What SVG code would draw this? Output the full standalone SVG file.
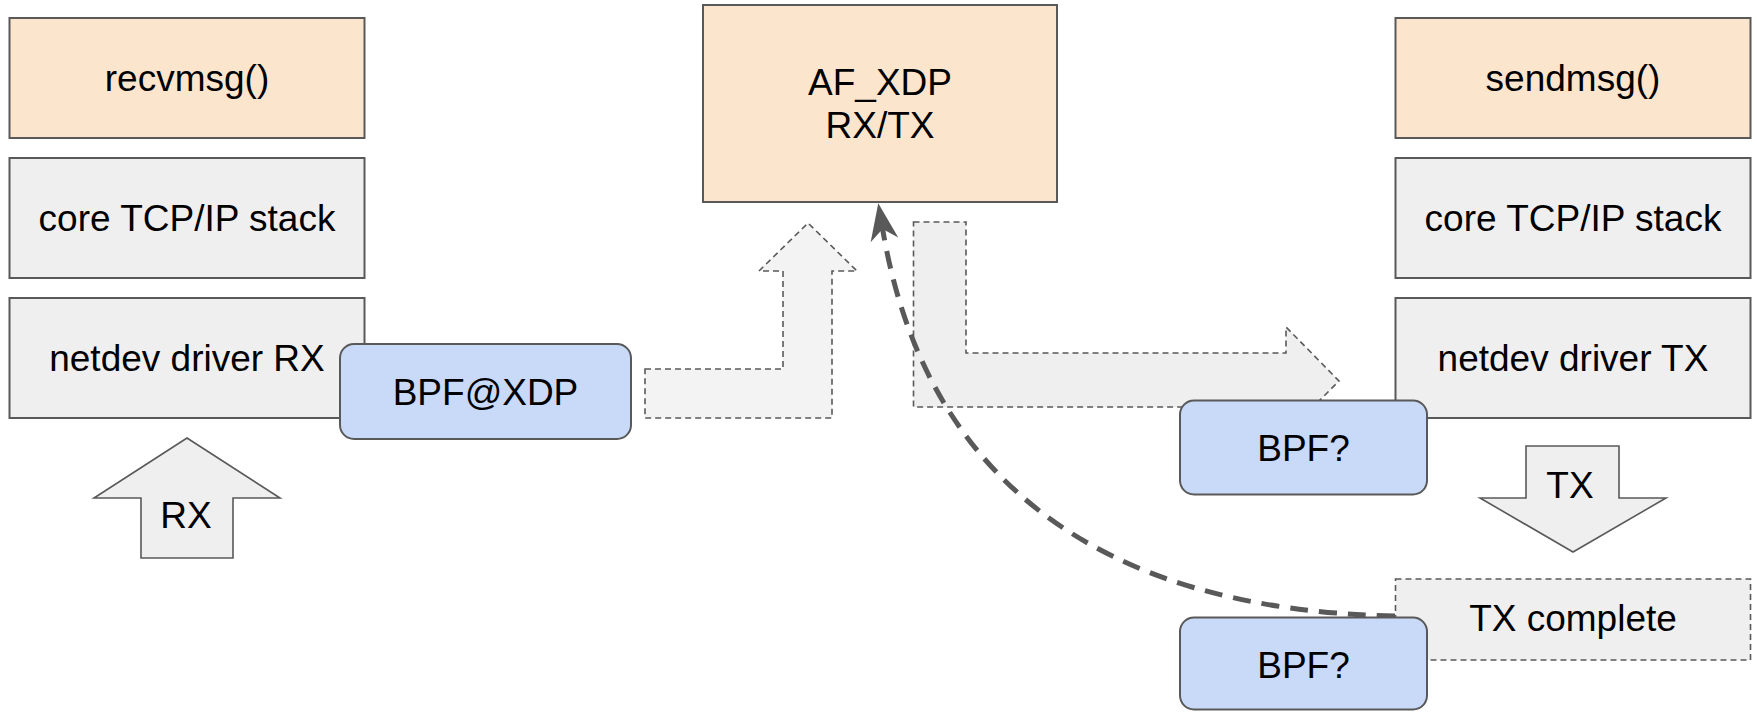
<svg xmlns="http://www.w3.org/2000/svg" width="1757" height="712" viewBox="0 0 1757 712">
<style>
text{font-family:"Liberation Sans",Arial,sans-serif;font-size:37px;fill:#000;text-anchor:middle}
.orange{fill:#fce5cd;stroke:#595959;stroke-width:2}
.gray{fill:#efefef;stroke:#595959;stroke-width:2}
.blue{fill:#c9daf8;stroke:#595959;stroke-width:2}
.dash{stroke:#595959;stroke-width:1.6;stroke-dasharray:6 4}
.block{fill:#efefef;stroke:#595959;stroke-width:1.6}
</style>
<defs>
<marker id="head" markerUnits="userSpaceOnUse" viewBox="0 -15 40 30" markerWidth="40" markerHeight="30" refX="11" refY="0" orient="auto" overflow="visible">
<path d="M0,-14 L37,0 L0,14 L11,0 Z" fill="#595959"/>
</marker>
</defs>
<g id="recvmsg"><rect class="orange" x="9.5" y="18" width="355" height="120"/><text x="187" y="91">recvmsg()</text></g>
<g id="core-rx"><rect class="gray" x="9.5" y="158" width="355" height="120"/><text x="187" y="231">core TCP/IP stack</text></g>
<g id="netdev-rx"><rect class="gray" x="9.5" y="298" width="355" height="120"/><text x="187" y="371">netdev driver RX</text></g>
<g id="afxdp"><rect class="orange" x="703" y="5" width="354" height="197"/><text x="880" y="95">AF_XDP</text><text x="880" y="138">RX/TX</text></g>
<g id="sendmsg"><rect class="orange" x="1395.5" y="18" width="355" height="120"/><text x="1573" y="91">sendmsg()</text></g>
<g id="core-tx"><rect class="gray" x="1395.5" y="158" width="355" height="120"/><text x="1573" y="231">core TCP/IP stack</text></g>
<g id="netdev-tx"><rect class="gray" x="1395.5" y="298" width="355" height="120"/><text x="1573" y="371">netdev driver TX</text></g>
<g id="txcomplete"><rect class="dash" fill="#efefef" x="1395.5" y="579" width="355" height="81"/><text x="1573" y="631">TX complete</text></g>
<g id="connectors">
<g id="rx-arrow"><polygon class="block" points="187,438 280,498 233,498 233,558 141,558 141,498 94,498"/><text x="186" y="528">RX</text></g>
<g id="tx-arrow"><polygon class="block" points="1526,446 1619,446 1619,498 1666,498 1573,552 1480,498 1526,498"/><text x="1570" y="498">TX</text></g>
<polygon id="to-afxdp" class="dash" fill="#f3f3f3" points="645,369 783,369 783,271 759,271 808,223 857,271 832,271 832,418 645,418"/>
<polygon id="from-afxdp" class="dash" fill="#efefef" points="913.5,222 966,222 966,353 1286,353 1286,327 1339,381 1286,434 1286,407 913.5,407"/>
<path id="completion" d="M1395,616 C1100,610 925,480 882.6,229" fill="none" stroke="#595959" stroke-width="5" stroke-dasharray="18 11" marker-end="url(#head)"/>
</g>
<g id="bpf-xdp"><rect class="blue" x="340" y="344" width="291" height="95" rx="14"/><text x="485.5" y="405">BPF@XDP</text></g>
<g id="bpf-tx"><rect class="blue" x="1180" y="400.5" width="247" height="94" rx="14"/><text x="1303.5" y="461">BPF?</text></g>
<g id="bpf-complete"><rect class="blue" x="1180" y="617.5" width="247" height="92" rx="14"/><text x="1303.5" y="678">BPF?</text></g>
</svg>
